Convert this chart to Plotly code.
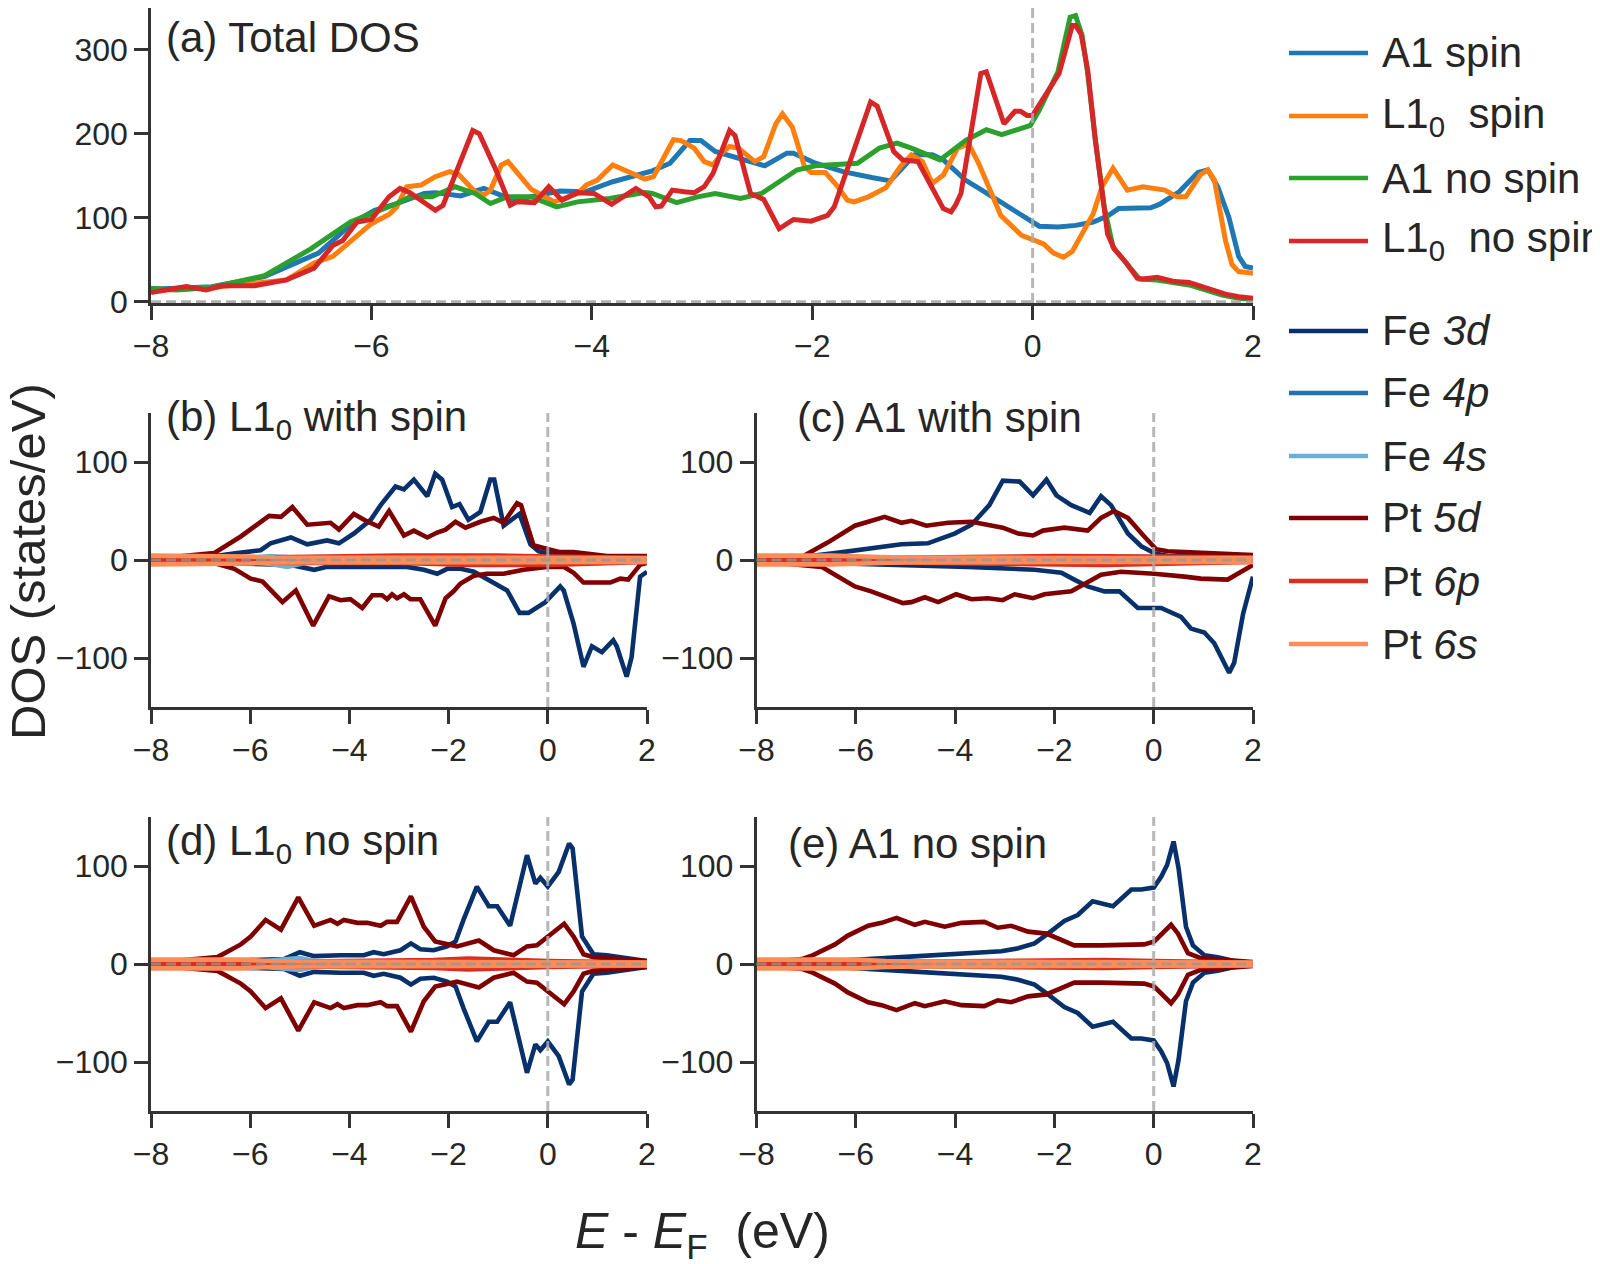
import plotly.graph_objects as go

# ---------------- DATA ----------------
x_ticks = [-8, -6, -4, -2, 0, 2]
x_tick_text = ["\u22128", "\u22126", "\u22124", "\u22122", "0", "2"]
ya_ticks = [0, 100, 200, 300]
ysub_ticks = [-100, 0, 100]
ysub_tick_text = ["\u2212100", "0", "100"]

# Panel (a) total DOS: (E - EF, DOS)
a1_spin = [(-8.0, 15), (-7.45, 18), (-6.97, 30), (-6.48, 58), (-6.16, 95), (-5.97, 109), (-5.77, 117),
           (-5.52, 129), (-5.42, 130), (-5.19, 126), (-4.98, 135), (-4.87, 129), (-4.71, 121), (-4.55, 125),
           (-4.29, 132), (-4.06, 131), (-3.81, 143), (-3.45, 156), (-3.29, 165), (-3.11, 192), (-3.01, 192),
           (-2.88, 179), (-2.72, 173), (-2.52, 165), (-2.43, 162), (-2.23, 177), (-2.17, 177), (-1.97, 165),
           (-1.72, 155), (-1.46, 148), (-1.29, 144), (-1.07, 175), (-0.91, 175), (-0.81, 169), (-0.61, 145),
           (-0.45, 132), (-0.23, 114), (0.0, 94), (0.06, 90), (0.23, 89), (0.39, 91), (0.55, 95), (0.68, 102),
           (0.78, 111), (1.07, 112), (1.15, 116), (1.33, 131), (1.50, 154), (1.59, 157), (1.68, 137),
           (1.78, 101), (1.87, 54), (1.93, 42), (2.0, 40)]
l10_spin = [(-8.0, 13), (-7.45, 17), (-6.77, 26), (-6.52, 46), (-6.35, 54), (-6.16, 75), (-6.0, 93),
            (-5.84, 104), (-5.77, 113), (-5.68, 137), (-5.55, 139), (-5.42, 149), (-5.29, 155), (-5.21, 152),
            (-5.06, 131), (-4.98, 127), (-4.92, 133), (-4.82, 163), (-4.76, 167), (-4.55, 134), (-4.34, 119),
            (-4.13, 129), (-4.05, 139), (-3.95, 145), (-3.81, 163), (-3.60, 151), (-3.52, 146), (-3.44, 149),
            (-3.26, 193), (-3.19, 192), (-3.07, 183), (-2.98, 167), (-2.90, 163), (-2.82, 177), (-2.75, 185),
            (-2.67, 183), (-2.52, 167), (-2.44, 173), (-2.33, 212), (-2.27, 224), (-2.18, 208), (-2.07, 161),
            (-2.01, 154), (-1.88, 154), (-1.78, 139), (-1.68, 121), (-1.62, 119), (-1.49, 125), (-1.33, 136),
            (-1.20, 161), (-1.10, 175), (-1.0, 167), (-0.91, 141), (-0.81, 151), (-0.68, 183), (-0.58, 188),
            (-0.49, 165), (-0.36, 125), (-0.29, 103), (-0.10, 79), (0.03, 73), (0.10, 69), (0.19, 58),
            (0.28, 53), (0.36, 60), (0.45, 81), (0.55, 105), (0.63, 137), (0.68, 149), (0.73, 159), (0.86, 133),
            (0.97, 135), (1.00, 137), (1.20, 133), (1.31, 125), (1.39, 125), (1.52, 151), (1.59, 157),
            (1.65, 145), (1.75, 73), (1.81, 44), (1.87, 36), (2.0, 34)]
a1_nospin = [(-8.0, 16), (-7.77, 14), (-7.45, 17), (-6.97, 31), (-6.55, 63), (-6.19, 95), (-6.0, 105),
             (-5.77, 117), (-5.65, 125), (-5.45, 125), (-5.24, 137), (-5.06, 129), (-4.92, 117), (-4.77, 125),
             (-4.55, 125), (-4.32, 113), (-4.13, 119), (-3.84, 123), (-3.52, 130), (-3.45, 129), (-3.23, 118),
             (-3.04, 125), (-2.88, 129), (-2.65, 123), (-2.46, 129), (-2.14, 157), (-1.97, 162), (-1.59, 165),
             (-1.39, 183), (-1.23, 189), (-1.10, 183), (-0.84, 169), (-0.61, 192), (-0.42, 205), (-0.28, 199),
             (-0.10, 206), (-0.02, 210), (0.06, 228), (0.23, 274), (0.34, 339), (0.39, 341), (0.45, 317),
             (0.50, 272), (0.57, 192), (0.65, 113), (0.73, 65), (0.84, 48), (0.97, 27), (1.13, 26), (1.42, 20),
             (1.72, 8), (1.87, 4), (2.0, 3)]
l10_nospin = [(-8.0, 11), (-7.68, 18), (-7.50, 14), (-7.35, 19), (-7.06, 19), (-6.77, 26), (-6.52, 40),
              (-6.35, 67), (-6.26, 73), (-6.13, 95), (-6.0, 98), (-5.84, 125), (-5.74, 135), (-5.65, 130),
              (-5.42, 109), (-5.35, 115), (-5.08, 204), (-5.02, 200), (-4.87, 157), (-4.74, 115), (-4.68, 119),
              (-4.52, 118), (-4.39, 137), (-4.27, 121), (-4.13, 130), (-3.98, 129), (-3.82, 116), (-3.60, 135),
              (-3.48, 125), (-3.42, 113), (-3.37, 114), (-3.27, 133), (-3.16, 131), (-3.07, 130), (-2.98, 137),
              (-2.90, 153), (-2.75, 204), (-2.70, 198), (-2.56, 129), (-2.44, 122), (-2.30, 87), (-2.17, 98),
              (-2.01, 96), (-1.86, 103), (-1.80, 113), (-1.62, 181), (-1.47, 238), (-1.41, 233), (-1.26, 179),
              (-1.18, 169), (-1.04, 167), (-0.81, 111), (-0.74, 107), (-0.70, 115), (-0.65, 129), (-0.47, 272),
              (-0.42, 274), (-0.26, 212), (-0.16, 227), (-0.11, 227), (-0.05, 222), (0.0, 222), (0.10, 244),
              (0.18, 260), (0.24, 272), (0.36, 329), (0.39, 329), (0.44, 319), (0.50, 276), (0.57, 192),
              (0.63, 125), (0.68, 81), (0.74, 63), (0.84, 48), (0.95, 28), (1.00, 27), (1.13, 29), (1.29, 24),
              (1.42, 23), (1.55, 18), (1.75, 9), (1.87, 6), (2.0, 4)]

# Panel (b) L1_0 with spin: spin up (+) and spin down (-)
b_fe3d_up = [(-8.0, 1), (-7.0, 2), (-6.26, 7), (-5.79, 10), (-5.59, 17), (-5.18, 23), (-4.85, 16), (-4.45, 20),
             (-4.21, 17), (-3.91, 27), (-3.57, 41), (-3.37, 56), (-3.07, 75), (-2.90, 72), (-2.70, 82),
             (-2.43, 65), (-2.27, 88), (-2.13, 82), (-1.93, 54), (-1.78, 57), (-1.60, 41), (-1.36, 49),
             (-1.16, 82), (-1.08, 82), (-0.89, 35), (-0.57, 47), (-0.35, 16), (-0.19, 9), (0.05, 6), (0.52, 4),
             (1.86, 3), (2.0, 3)]
b_fe3d_dn = [(-8.0, -1), (-6.19, -3), (-5.18, -5), (-4.71, -10), (-4.45, -7), (-3.51, -7), (-2.84, -7),
             (-2.50, -10), (-2.23, -14), (-2.03, -9), (-1.76, -9), (-1.49, -12), (-1.23, -19), (-0.96, -26),
             (-0.82, -31), (-0.57, -54), (-0.39, -54), (-0.05, -43), (0.25, -27), (0.32, -31), (0.52, -65),
             (0.72, -109), (0.89, -88), (1.09, -94), (1.32, -82), (1.39, -88), (1.59, -119), (1.69, -99),
             (1.86, -17), (2.0, -12)]
b_pt5d_up = [(-8.0, 1), (-6.73, 7), (-6.19, 24), (-5.62, 45), (-5.38, 44), (-5.15, 54), (-4.85, 36),
             (-4.38, 38), (-4.21, 31), (-3.91, 47), (-3.67, 40), (-3.41, 34), (-3.20, 50), (-2.90, 25),
             (-2.70, 30), (-2.43, 23), (-2.23, 28), (-2.06, 31), (-1.86, 39), (-1.66, 33), (-1.36, 39),
             (-1.09, 43), (-0.89, 38), (-0.62, 58), (-0.54, 56), (-0.29, 15), (0.01, 11), (0.25, 8), (0.52, 8),
             (1.19, 4), (2.0, 4)]
b_pt5d_dn = [(-8.0, -1), (-6.73, -3), (-6.32, -9), (-5.99, -19), (-5.75, -22), (-5.35, -43), (-5.08, -31),
             (-4.73, -67), (-4.41, -37), (-4.18, -41), (-3.98, -40), (-3.74, -49), (-3.54, -36), (-3.34, -36),
             (-3.24, -40), (-3.14, -35), (-3.04, -39), (-2.90, -35), (-2.77, -40), (-2.57, -40), (-2.27, -67),
             (-2.06, -39), (-1.90, -32), (-1.76, -24), (-1.49, -16), (-1.23, -14), (-0.89, -14), (-0.49, -10),
             (-0.02, -7), (0.32, -7), (0.52, -13), (0.72, -23), (1.26, -23), (1.46, -19), (1.62, -20),
             (1.86, -5), (2.0, -3)]
b_fe4p_up = [(-8.0, 0.5), (-6.0, 1), (-5.0, 2), (-3.0, 2), (-1.0, 2), (0.0, 1.5), (2.0, 1)]
b_fe4p_dn = [(-8.0, -0.5), (-6.0, -1), (-5.0, -2), (-3.0, -2), (-1.0, -2), (0.0, -2), (2.0, -1.5)]
b_fe4s_up = [(-8.0, 0.5), (-6.2, 1), (-5.6, 4), (-5.2, 3), (-4.8, 1.5), (-4.0, 1), (2.0, 0.5)]
b_fe4s_dn = [(-8.0, -0.5), (-6.2, -1), (-5.6, -4), (-5.25, -7), (-4.9, -3), (-4.0, -1), (2.0, -0.5)]
b_pt6p_up = [(-8.0, 1), (-6.5, 2), (-5.0, 3), (-3.0, 4.5), (-1.0, 4.5), (0.0, 4), (1.0, 3), (2.0, 2)]
b_pt6p_dn = [(-8.0, -1), (-6.5, -2), (-5.0, -3), (-3.0, -3), (-1.5, -5), (0.0, -5), (1.0, -3), (2.0, -2)]
b_pt6s_up = [(-8.0, 4.5), (-6.8, 4.5), (-6.0, 3.5), (-5.5, 2.5), (-3.0, 2), (0.0, 2), (2.0, 2)]
b_pt6s_dn = [(-8.0, -4.5), (-6.8, -4.5), (-6.0, -3.5), (-5.5, -2.5), (-3.0, -2), (0.0, -2), (2.0, -2)]

# Panel (c) A1 with spin
c_fe3d_up = [(-8.0, 1), (-7.09, 3), (-6.42, 7), (-5.75, 12), (-5.08, 16), (-4.55, 17), (-4.01, 27), (-3.67, 36),
             (-3.31, 56), (-3.04, 81), (-2.70, 80), (-2.43, 66), (-2.16, 82), (-1.96, 66), (-1.66, 56),
             (-1.29, 48), (-1.06, 65), (-0.86, 56), (-0.52, 27), (-0.25, 14), (0.01, 7), (0.28, 4), (1.62, 3),
             (2.0, 3)]
c_fe3d_dn = [(-8.0, -1), (-6.42, -3), (-5.08, -5), (-3.74, -7), (-2.40, -10), (-1.86, -13), (-1.60, -20),
             (-1.33, -27), (-0.99, -32), (-0.69, -32), (-0.32, -49), (0.15, -49), (0.55, -58), (0.75, -70),
             (1.02, -74), (1.22, -85), (1.52, -115), (1.62, -105), (1.80, -55), (2.0, -17)]
c_pt5d_up = [(-8.0, 1), (-7.09, 3), (-6.56, 18), (-6.02, 35), (-5.75, 39), (-5.42, 44), (-5.08, 38),
             (-4.88, 40), (-4.58, 35), (-4.14, 38), (-3.67, 39), (-3.34, 36), (-3.04, 33), (-2.73, 27),
             (-2.43, 25), (-2.23, 30), (-1.80, 33), (-1.33, 30), (-1.06, 43), (-0.80, 50), (-0.52, 43),
             (-0.19, 24), (0.05, 11), (0.28, 9), (0.95, 7), (1.62, 6), (2.0, 5)]
c_pt5d_dn = [(-8.0, -1), (-6.69, -7), (-6.42, -15), (-6.02, -27), (-5.69, -32), (-5.28, -39), (-5.05, -44),
             (-4.88, -43), (-4.61, -38), (-4.34, -43), (-3.98, -35), (-3.67, -40), (-3.34, -39), (-3.04, -41),
             (-2.80, -35), (-2.43, -39), (-2.20, -35), (-1.66, -32), (-1.39, -24), (-1.06, -15), (-0.66, -12),
             (0.01, -14), (0.62, -17), (0.95, -19), (1.49, -20), (1.75, -12), (2.0, -5)]
c_fe4p_up = [(-8.0, 0.5), (-6.0, 1), (-4.0, 2), (-2.0, 2), (0.0, 1.5), (2.0, 1)]
c_fe4p_dn = [(-8.0, -0.5), (-6.0, -1), (-4.0, -2), (-2.0, -2), (0.0, -2), (2.0, -1.5)]
c_fe4s_up = [(-8.0, 0.5), (-6.0, 1), (-4.0, 1), (-2.0, 1), (2.0, 0.5)]
c_fe4s_dn = [(-8.0, -0.5), (-6.0, -1), (-4.0, -1), (-2.0, -1), (2.0, -0.5)]
c_pt6p_up = [(-8.0, 1), (-6.0, 2), (-4.0, 4), (-2.0, 4), (0.0, 3.5), (1.0, 3), (2.0, 2.5)]
c_pt6p_dn = [(-8.0, -1), (-6.0, -2), (-4.0, -3), (-2.0, -4.5), (-1.0, -5), (0.0, -4), (1.0, -3), (2.0, -2)]
c_pt6s_up = [(-8.0, 4.5), (-6.5, 4.5), (-5.5, 3), (-5.0, 2.5), (-2.0, 2), (0.0, 2), (2.0, 2)]
c_pt6s_dn = [(-8.0, -4.5), (-6.5, -4.5), (-5.5, -3), (-5.0, -2.5), (-2.0, -2), (0.0, -2), (2.0, -2)]

# Panel (d) L1_0 no spin (spin down = mirror of spin up)
d_fe3d = [(-8.0, 1), (-6.19, 3), (-5.32, 5), (-5.0, 12), (-4.71, 8), (-4.18, 9), (-3.71, 9), (-3.51, 12),
          (-3.31, 10), (-2.97, 14), (-2.76, 21), (-2.57, 15), (-2.30, 14), (-2.03, 18), (-1.86, 23), (-1.70, 45),
          (-1.43, 79), (-1.19, 59), (-1.02, 59), (-0.76, 39), (-0.42, 111), (-0.25, 82), (-0.15, 88), (0.0, 79),
          (0.22, 94), (0.43, 123), (0.50, 118), (0.69, 28), (0.92, 10), (1.19, 9), (1.86, 5), (2.0, 3)]
d_pt5d = [(-8.0, 1), (-6.66, 7), (-6.19, 20), (-5.99, 28), (-5.69, 45), (-5.38, 35), (-5.03, 68), (-4.71, 39),
          (-4.38, 45), (-4.24, 41), (-4.11, 45), (-3.84, 42), (-3.64, 42), (-3.37, 39), (-3.24, 43), (-3.04, 43),
          (-2.76, 69), (-2.50, 38), (-2.27, 23), (-1.83, 18), (-1.39, 24), (-1.09, 14), (-0.69, 9), (-0.42, 18),
          (-0.22, 19), (0.01, 28), (0.33, 41), (0.52, 28), (0.72, 10), (0.92, 7), (1.86, 4), (2.0, 3)]
d_fe4p = [(-8.0, 0.5), (-6.0, 1), (-4.0, 2), (-2.0, 2), (0.0, 1.5), (2.0, 1)]
d_fe4s = [(-8.0, 0.5), (-6.0, 1), (-5.5, 4), (-5.0, 6), (-4.6, 2), (-3.0, 1), (2.0, 0.5)]
d_pt6p = [(-8.0, 1), (-6.0, 2), (-4.0, 3), (-2.3, 4), (-1.6, 5.5), (-0.8, 4), (0.0, 3), (2.0, 1.5)]
d_pt6s = [(-8.0, 4.5), (-6.2, 4.5), (-5.6, 3), (-5.0, 2.5), (-2.0, 2), (0.0, 2), (2.0, 1.5)]

# Panel (e) A1 no spin
e_fe3d = [(-8.0, 1), (-6.42, 3), (-5.08, 7), (-3.74, 11), (-3.07, 13), (-2.73, 16), (-2.40, 21), (-2.13, 31),
          (-1.80, 44), (-1.53, 50), (-1.23, 64), (-0.82, 59), (-0.45, 76), (-0.25, 76), (0.0, 78), (0.15, 89),
          (0.27, 101), (0.40, 125), (0.50, 98), (0.65, 38), (0.79, 19), (1.02, 9), (1.29, 7), (1.62, 3), (2.0, 1)]
e_pt5d = [(-8.0, 1), (-7.09, 5), (-6.86, 9), (-6.42, 20), (-6.16, 29), (-5.75, 39), (-5.48, 42), (-5.18, 47),
          (-4.81, 40), (-4.61, 43), (-4.21, 38), (-3.87, 42), (-3.41, 43), (-3.14, 37), (-2.87, 39), (-2.53, 33),
          (-2.16, 31), (-1.93, 26), (-1.60, 19), (-1.06, 19), (-0.39, 19), (-0.19, 20), (0.01, 23), (0.35, 40),
          (0.49, 31), (0.69, 11), (0.95, 6), (1.62, 3), (2.0, 2)]
e_fe4p = [(-8.0, 0.5), (-6.0, 1), (-4.0, 1.5), (-2.0, 2), (0.0, 1.5), (2.0, 1)]
e_fe4s = [(-8.0, 0.5), (-6.0, 1), (-4.0, 1), (-2.0, 1), (2.0, 0.5)]
e_pt6p = [(-8.0, 1), (-6.0, 2), (-4.0, 3), (-2.4, 4), (-1.0, 4), (0.0, 3), (2.0, 1.5)]
e_pt6s = [(-8.0, 4.5), (-6.0, 4.5), (-5.4, 3), (-4.8, 2.5), (-2.0, 2), (0.0, 2), (2.0, 1.5)]

total_names = ["A1&nbsp;spin", "L1<sub>0</sub>&nbsp;&nbsp;spin", "A1&nbsp;no&nbsp;spin",
               "L1<sub>0</sub>&nbsp;&nbsp;no&nbsp;spin"]
orbital_names = ["Fe <i>3d</i>", "Fe <i>4p</i>", "Fe <i>4s</i>", "Pt <i>5d</i>", "Pt <i>6p</i>", "Pt <i>6s</i>"]
panel_titles = ["(a) Total DOS", "(b) L1<sub>0</sub> with spin", "(c) A1 with spin",
                "(d) L1<sub>0</sub> no spin", "(e) A1 no spin"]

# ---------------- STYLE ----------------
total_colors = ["#1f77b4", "#ff7f0e", "#2ca02c", "#d62728"]
orb_colors = ["#08306b", "#2171b5", "#6baed6", "#7f0000", "#d7301f", "#fc8d59"]
W, H = 1600, 1264
PAGE_OFFSET = 8  # the browser page adds an 8 px body margin
FONT = "Liberation Sans, Arial, Helvetica, sans-serif"
TXT = "#262626"
AX = "#333333"


def fx(p):
    return (p - PAGE_OFFSET) / W


def fy(p):
    return 1 - (p - PAGE_OFFSET) / H


def xy(pairs, sign=1):
    return [p[0] for p in pairs], [sign * p[1] for p in pairs]


fig = go.Figure()


def add(pairs, color, ax, width=5.0, sign=1):
    x, y = xy(pairs, sign)
    fig.add_trace(go.Scatter(x=x, y=y, mode="lines", line=dict(color=color, width=width),
                             xaxis="x" + ax, yaxis="y" + ax, showlegend=False, hoverinfo="skip"))


# panel (a)
for series, col in zip([a1_spin, l10_spin, a1_nospin, l10_nospin], total_colors):
    add(series, col, "", width=5.0)

# spin-resolved panels
spin_panels = [
    ("2", [(b_fe3d_up, b_fe3d_dn), (b_fe4p_up, b_fe4p_dn), (b_fe4s_up, b_fe4s_dn),
           (b_pt5d_up, b_pt5d_dn), (b_pt6p_up, b_pt6p_dn), (b_pt6s_up, b_pt6s_dn)]),
    ("3", [(c_fe3d_up, c_fe3d_dn), (c_fe4p_up, c_fe4p_dn), (c_fe4s_up, c_fe4s_dn),
           (c_pt5d_up, c_pt5d_dn), (c_pt6p_up, c_pt6p_dn), (c_pt6s_up, c_pt6s_dn)]),
]
for ax, orbs in spin_panels:
    for (up, dn), col in zip(orbs, orb_colors):
        add(up, col, ax, width=4.6)
        add(dn, col, ax, width=4.6)

nospin_panels = [
    ("4", [d_fe3d, d_fe4p, d_fe4s, d_pt5d, d_pt6p, d_pt6s]),
    ("5", [e_fe3d, e_fe4p, e_fe4s, e_pt5d, e_pt6p, e_pt6s]),
]
for ax, orbs in nospin_panels:
    for orb, col in zip(orbs, orb_colors):
        add(orb, col, ax, width=4.6)
        add(orb, col, ax, width=4.6, sign=-1)

# ---------------- AXES ----------------
# pixel boxes on the page: (left, right, top, bottom)
boxes = {
    "": (151, 1253, 8, 303),
    "2": (151, 647, 413, 707),
    "3": (756.5, 1253, 413, 707),
    "4": (151, 647, 817, 1111),
    "5": (756.5, 1253, 817, 1111),
}
common = dict(showline=True, linecolor=AX, linewidth=2.5, ticks="outside", ticklen=14, tickwidth=2.5,
              tickcolor=AX, showgrid=False, zeroline=False, automargin=False,
              tickfont=dict(family=FONT, size=32, color=TXT))
layout_axes = {}
for ax, (l, r, t, b) in boxes.items():
    xname = "xaxis" + ax
    yname = "yaxis" + ax
    layout_axes[xname] = dict(common, domain=[fx(l), fx(r)], range=[-8, 2], anchor="y" + ax,
                              tickvals=x_ticks, ticktext=x_tick_text, ticklabelstandoff=-1)
    if ax == "":
        layout_axes[yname] = dict(common, domain=[fy(b), fy(t)], range=[-1.5, 350], anchor="x",
                                  tickvals=ya_ticks, ticktext=[str(v) for v in ya_ticks],
                                  ticklabelstandoff=0)
    else:
        layout_axes[yname] = dict(common, domain=[fy(b), fy(t)], range=[-150, 150], anchor="x" + ax,
                                  tickvals=ysub_ticks, ticktext=ysub_tick_text, ticklabelstandoff=0)

# ---------------- REFERENCE LINES ----------------
shapes = []
for ax in boxes:
    xr = "x" + ax
    yr = "y" + ax
    shapes.append(dict(type="line", xref=xr, yref=yr + " domain", x0=0, x1=0, y0=0, y1=1,
                       line=dict(color="rgba(170,170,170,0.85)", width=3, dash="10px,5px"), layer="above"))
    shapes.append(dict(type="line", xref=xr + " domain", yref=yr, x0=0, x1=1, y0=0, y1=0,
                       line=dict(color="rgba(150,150,150,0.75)", width=3, dash="10px,5px"), layer="above"))

# ---------------- LEGEND (drawn manually) ----------------
annotations = []
legend_rows = [53, 116, 178, 241, 331, 393, 456, 518, 581, 644]
legend_items = list(zip(total_names, total_colors)) + list(zip(orbital_names, orb_colors))
for row, (name, col) in zip(legend_rows, legend_items):
    shapes.append(dict(type="line", xref="paper", yref="paper", x0=fx(1289), x1=fx(1368), y0=fy(row),
                       y1=fy(row), line=dict(color=col, width=4.5)))
    annotations.append(dict(text=name, xref="paper", yref="paper", x=fx(1380), y=fy(row), xanchor="left",
                            yanchor="middle", showarrow=False, font=dict(family=FONT, size=42, color=TXT)))

# panel titles
title_pos = [(164, 37), (164, 420), (795, 418), (164, 843), (786, 843)]
for txt, (px, py) in zip(panel_titles, title_pos):
    annotations.append(dict(text=txt, xref="paper", yref="paper", x=fx(px), y=fy(py), xanchor="left",
                            yanchor="middle", showarrow=False, font=dict(family=FONT, size=42, color=TXT)))

# axis titles
annotations.append(dict(text="DOS (states/eV)", xref="paper", yref="paper", x=fx(28), y=fy(562),
                        xanchor="center", yanchor="middle", textangle=-90, showarrow=False,
                        font=dict(family=FONT, size=49, color=TXT)))
annotations.append(dict(text="<i>E</i> - <i>E</i><sub>F</sub>&nbsp; (eV)", xref="paper", yref="paper",
                        x=fx(702), y=fy(1234), xanchor="center", yanchor="middle", showarrow=False,
                        font=dict(family=FONT, size=50, color=TXT)))

fig.update_layout(width=W, height=H, margin=dict(l=0, r=0, t=0, b=0, pad=0, autoexpand=False),
                  paper_bgcolor="white", plot_bgcolor="white", showlegend=False, shapes=shapes,
                  annotations=annotations, **layout_axes)

fig.write_html("out.html")
